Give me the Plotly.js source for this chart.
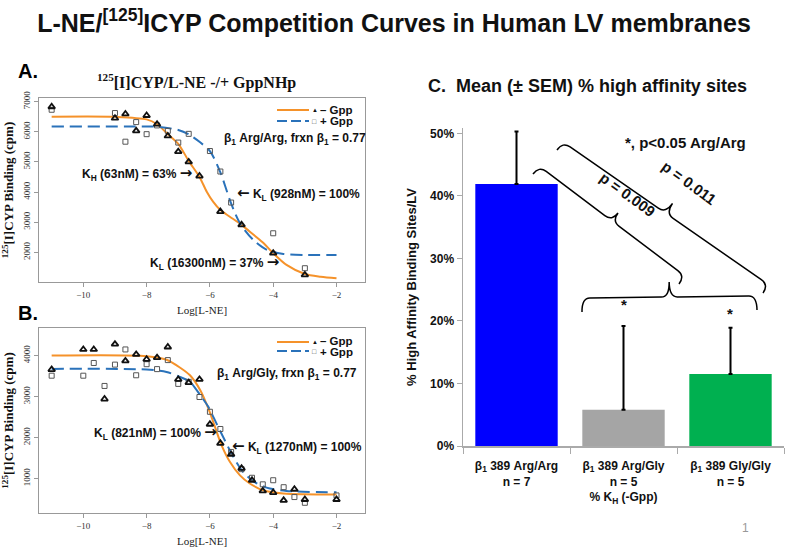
<!DOCTYPE html>
<html>
<head>
<meta charset="utf-8">
<script src="https://cdn.plot.ly/plotly-3.0.1.min.js"></script>
<style>
    html, body { margin: 0; padding: 0; background: #fff; }
    #chart { width: 787px; height: 553px; }
</style>
</head>
<body>
<div id="chart"></div>
<script>
// ---- Panel A: Arg/Arg, 125I-CYP binding vs log[L-NE] ----
const aMinusX = [-11, -9, -8.67, -8.33, -8, -7.67, -7.33, -7, -6.67, -6.33, -5.67, -5, -4, -3]
const aMinusY = [6830, 6450, 6590, 6030, 6540, 6250, 5860, 5340, 5000, 4530, 3350, 2910, 1970, 1250]
const aPlusX = [-11, -9, -8.67, -8.33, -8, -7.67, -7.33, -7, -6.67, -6, -5.67, -5.33, -4, -3]
const aPlusY = [6730, 6620, 5670, 6320, 5920, 6210, 6030, 5640, 5930, 5360, 4680, 3650, 2630, 1470]
// fitted curves
const aFitMinusX = [-11, -9, -8, -7.67, -7.33, -7, -6.67, -6.33, -6.1, -5.9, -5.67, -5.37, -5, -4.62, -4.3, -4, -3.58, -3, -2.5, -2]
const aFitMinusY = [6500, 6495, 6410, 6250, 5920, 5600, 5030, 4500, 4010, 3680, 3400, 3180, 2910, 2580, 2300, 1970, 1580, 1280, 1190, 1140]
const aFitPlusX = [-11, -8, -7.67, -7, -6.68, -6.3, -6, -5.68, -5.34, -5.05, -4.63, -4.2, -3.68, -3, -2]
const aFitPlusY = [6170, 6170, 6165, 6060, 5920, 5640, 5360, 4680, 3650, 2960, 2410, 2080, 1945, 1910, 1910]

// ---- Panel B: Arg/Gly ----
const bMinusX = [-11, -10, -9.67, -9.33, -9, -8.67, -8.33, -8, -7.67, -7.33, -7, -6.67, -6.33, -6, -5.67, -5.33, -5, -4.67, -4.33, -4, -3.67, -3.33, -3, -2]
const bMinusY = [3660, 4150, 4150, 2940, 4280, 3870, 4030, 3910, 3950, 4210, 3420, 3340, 3420, 2325, 1860, 1590, 1250, 960, 700, 660, 470, 740, 490, 490]
const bPlusX = [-11, -10, -9.67, -9.33, -9, -8.67, -8.33, -8, -7.67, -7.33, -7, -6.67, -6.33, -6, -5.67, -5.33, -5, -4.67, -4.33, -4, -3.67, -3.33, -3, -2]
const bPlusY = [3510, 3510, 3820, 3260, 3780, 4150, 3520, 3790, 3670, 3890, 3310, 3360, 2990, 2630, 2210, 1650, 1230, 1020, 860, 960, 790, 550, 410, 590]
const bFitMinusX = [-11, -8, -7.37, -6.95, -6.63, -6.3, -6.05, -5.84, -5.63, -5.37, -5.05, -4.74, -4.32, -3.68, -2]
const bFitMinusY = [4000, 3985, 3900, 3710, 3520, 3150, 2710, 2260, 1810, 1410, 1080, 880, 715, 635, 610]
const bFitPlusX = [-11, -8, -7.37, -6.95, -6.63, -6.3, -6.05, -5.79, -5.53, -5.26, -4.95, -4.63, -4.21, -3.58, -2]
const bFitPlusY = [3675, 3660, 3600, 3480, 3360, 3030, 2750, 2340, 1935, 1530, 1160, 935, 780, 700, 665]

const logTicks = [-10, -8, -6, -4, -2]
const aYTicks = [2000, 3000, 4000, 5000, 6000, 7000]
const bYTicks = [1000, 2000, 3000, 4000]

// ---- Panel C: mean (+SEM) % high affinity sites ----
const cCategories = [
    'β<sub>1</sub> 389 Arg/Arg<br>n = 7',
    'β<sub>1</sub> 389 Arg/Gly<br>n = 5<br>% K<sub>H</sub> (-Gpp)',
    'β<sub>1</sub> 389 Gly/Gly<br>n = 5'
]
const cMean = [0.419, 0.058, 0.115]
const cSem = [0.084, 0.134, 0.074]
const cColors = ['#0000ff', '#a5a5a5', '#00b050']
const cPctTicks = [0, 0.1, 0.2, 0.3, 0.4, 0.5]

// page is laid out in pixels, converted to paper fractions
const W = 787
const H = 553
const px = x => x / W
const py = y => 1 - y / H

const ORANGE = '#f5922a'
const BLUE = '#2a72ba'
const SERIF = '"Liberation Serif", "Times New Roman", serif'
const SANS = '"Liberation Sans", Arial, sans-serif'
const RARR = '<span style="font-family:DejaVu Sans;font-size:15px">→</span>'
const LARR = '<span style="font-family:DejaVu Sans;font-size:15px">←</span>'

function fitTrace(x, y, color, dash, xa, ya) {
    return {
        x: x, y: y, type: 'scatter', mode: 'lines',
        line: { color: color, width: 2, dash: dash, shape: 'spline', smoothing: 0.8 },
        xaxis: xa, yaxis: ya, hoverinfo: 'skip'
    }
}

function pointTrace(x, y, symbol, color, lw, size, xa, ya) {
    return {
        x: x, y: y, type: 'scatter', mode: 'markers',
        marker: { symbol: symbol, size: size, color: color, line: { color: color, width: lw } },
        xaxis: xa, yaxis: ya
    }
}

const traces = [
    fitTrace(aFitMinusX, aFitMinusY, ORANGE, 'solid', 'x', 'y'),
    fitTrace(aFitPlusX, aFitPlusY, BLUE, '12px,6px', 'x', 'y'),
    pointTrace(aPlusX, aPlusY, 'square-open', '#555', 1, 5, 'x', 'y'),
    pointTrace(aMinusX, aMinusY, 'triangle-up-open', '#111', 1.8, 6, 'x', 'y'),
    fitTrace(bFitMinusX, bFitMinusY, ORANGE, 'solid', 'x2', 'y2'),
    fitTrace(bFitPlusX, bFitPlusY, BLUE, '12px,6px', 'x2', 'y2'),
    pointTrace(bPlusX, bPlusY, 'square-open', '#555', 1, 5, 'x2', 'y2'),
    pointTrace(bMinusX, bMinusY, 'triangle-up-open', '#111', 1.8, 6, 'x2', 'y2'),
    {
        x: cCategories, y: cMean, type: 'bar',
        marker: { color: cColors },
        error_y: {
            type: 'data', symmetric: false, array: cSem,
            arrayminus: cSem.map(() => 0),
            color: '#000', thickness: 2, width: 2
        },
        xaxis: 'x3', yaxis: 'y3'
    }
]

// R-style boxed axes for panels A and B
function logAxis() {
    return {
        domain: [px(39), px(365)], range: [-11.4, -1.1],
        tickvals: logTicks, ticks: 'outside', ticklen: 4, tickcolor: '#999',
        showline: true, mirror: true, linecolor: '#999', linewidth: 1,
        showgrid: false, zeroline: false,
        tickfont: { family: SERIF, size: 9, color: '#333' },
        title: { text: 'Log[L-NE]', font: { family: SERIF, size: 11, color: '#222' }, standoff: 7 }
    }
}

function cpmAxis(top, bottom, range, ticks) {
    return {
        domain: [py(bottom), py(top)], range: range,
        tickvals: ticks, tickangle: -90, ticks: 'outside', ticklen: 4, tickcolor: '#999',
        showline: true, mirror: true, linecolor: '#999', linewidth: 1,
        showgrid: false, zeroline: false,
        tickfont: { family: SERIF, size: 9, color: '#333' },
        title: {
            text: '<sup>125</sup>[I]CYP Binding (cpm)',
            font: { family: SERIF, size: 13, color: '#111', weight: 'bold' }, standoff: 8
        }
    }
}

// curly brace between two end points, cusp pointing to the left-hand normal
function brace(x1, y1, x2, y2, h1, h2, r) {
    const L = Math.hypot(x2 - x1, y2 - y1)
    const tx = (x2 - x1) / L
    const ty = (y2 - y1) / L
    const p = (u, v) => `${px(x1 + u * tx + v * ty)},${py(y1 + u * ty - v * tx)}`
    return `M ${p(0, 0)} Q ${p(0, h1)} ${p(r, h1)} L ${p(L / 2 - r, h1)} ` +
        `Q ${p(L / 2, h1)} ${p(L / 2, h1 + h2)} Q ${p(L / 2, h1)} ${p(L / 2 + r, h1)} ` +
        `L ${p(L - r, h1)} Q ${p(L, h1)} ${p(L, 0)}`
}

function braceShape(path) {
    return { type: 'path', xref: 'paper', yref: 'paper', path: path, line: { color: '#000', width: 1.5 } }
}

function legendLine(y, color, dash) {
    return {
        type: 'line', xref: 'paper', yref: 'paper',
        x0: px(277), x1: px(309), y0: py(y), y1: py(y),
        line: { color: color, width: 2, dash: dash }
    }
}

function label(text, x, y, size, opts = {}) {
    return Object.assign({
        text: text, xref: 'paper', yref: 'paper', x: px(x), y: py(y),
        xanchor: 'left', yanchor: 'middle', showarrow: false,
        font: { family: SANS, size: size, color: '#111', weight: 'bold' }
    }, opts)
}

const shapes = [
    legendLine(110, ORANGE, 'solid'),
    legendLine(121, BLUE, '10px,4px'),
    legendLine(342, ORANGE, 'solid'),
    legendLine(351, BLUE, '10px,4px'),
    braceShape(brace(582, 312, 757, 310, 14, 15, 8)),
    braceShape(brace(533, 174, 679, 284, 10, 10, 9)),
    braceShape(brace(557, 150, 763, 293, 10, 12, 9))
]

const annotations = [
    label('A.', 16, 71, 20, { font: { family: SANS, size: 20, color: '#000', weight: 'bold' } }),
    label('B.', 16, 313, 20, { font: { family: SANS, size: 20, color: '#000', weight: 'bold' } }),
    label('<sup>125</sup>[I]CYP/L-NE -/+ GppNHp', 196, 81, 16, {
        xanchor: 'center', font: { family: SERIF, size: 16, color: '#111', weight: 'bold' }
    }),
    // legends A
    label('▲', 310, 110, 6, { font: { size: 6, color: '#111' } }),
    label('– Gpp', 318, 110, 11.5),
    label('□', 310, 121, 7, { font: { size: 7, color: '#444' } }),
    label('+ Gpp', 318, 121, 11.5),
    // legends B
    label('▲', 310, 342, 6, { font: { size: 6, color: '#111' } }),
    label('– Gpp', 318, 341, 11.5),
    label('□', 310, 351, 7, { font: { size: 7, color: '#444' } }),
    label('+ Gpp', 318, 352, 11.5),
    // fit notes A
    label('β<sub>1</sub> Arg/Arg, frxn β<sub>1</sub> = 0.77', 222, 139, 12),
    label('K<sub>H</sub> (63nM) = 63% ' + RARR, 80, 173, 12),
    label(LARR + ' K<sub>L</sub> (928nM) = 100%', 235, 193, 12),
    label('K<sub>L</sub> (16300nM) = 37% ' + RARR, 148, 262, 12),
    // fit notes B
    label('β<sub>1</sub> Arg/Gly, frxn β<sub>1</sub> = 0.77', 215, 374, 12),
    label('K<sub>L</sub> (821nM) = 100% ' + RARR, 92, 432, 12),
    label(LARR + ' K<sub>L</sub> (1270nM) = 100%', 230, 447, 12),
    // panel C
    label('C.  Mean (± SEM) % high affinity sites', 426, 86, 18),
    label('*, p<0.05 Arg/Arg', 685, 143, 15, { xanchor: 'center' }),
    label('p = 0.009', 628, 194, 15, { xanchor: 'center', textangle: 36 }),
    label('p = 0.011', 689, 182, 15, { xanchor: 'center', textangle: 36 }),
    label('*', 624, 304, 15, { xanchor: 'center' }),
    label('*', 730, 313, 15, { xanchor: 'center' }),
    label('1', 745, 528, 12, { xanchor: 'center', font: { family: SANS, size: 12, color: '#999' } })
]

const layout = {
    width: W, height: H,
    margin: { l: 0, r: 0, t: 0, b: 0 },
    paper_bgcolor: '#fff', plot_bgcolor: 'rgba(0,0,0,0)',
    showlegend: false,
    title: {
        text: 'L-NE/<sup>[125]</sup>ICYP Competition Curves in Human LV membranes',
        x: px(394), y: py(23), xanchor: 'center', yanchor: 'middle',
        font: { family: SANS, size: 25, color: '#111', weight: 'bold' }
    },
    xaxis: Object.assign(logAxis(), { anchor: 'y' }),
    yaxis: Object.assign(cpmAxis(98, 282, [1013, 7120], aYTicks), { anchor: 'x' }),
    xaxis2: Object.assign(logAxis(), { anchor: 'y2' }),
    yaxis2: Object.assign(cpmAxis(328, 513, [161, 4673], bYTicks), { anchor: 'x2' }),
    xaxis3: {
        domain: [px(463), px(784)], type: 'category', anchor: 'y3',
        ticks: 'outside', tickson: 'boundaries', ticklen: 6, tickcolor: '#aaa',
        showline: true, linecolor: '#aaa', linewidth: 1.5, tickangle: 0, ticklabelstandoff: 8,
        tickfont: { family: SANS, size: 12, color: '#111', weight: 'bold' }
    },
    yaxis3: {
        domain: [py(446), py(128)], range: [0, 0.5085], anchor: 'x3',
        tickvals: cPctTicks, tickformat: '.0%', ticks: 'outside', ticklen: 5, tickcolor: '#aaa',
        showline: true, linecolor: '#aaa', linewidth: 1.5, showgrid: false, zeroline: false,
        tickfont: { family: SANS, size: 12, color: '#111', weight: 'bold' },
        title: {
            text: '% High Affinity Binding Sites/LV',
            font: { family: SANS, size: 13, color: '#111', weight: 'bold' }, standoff: 10
        }
    },
    bargap: 0.23,
    shapes: shapes,
    annotations: annotations
}

Plotly.newPlot('chart', traces, layout, { staticPlot: true })
</script>
</body>
</html>
